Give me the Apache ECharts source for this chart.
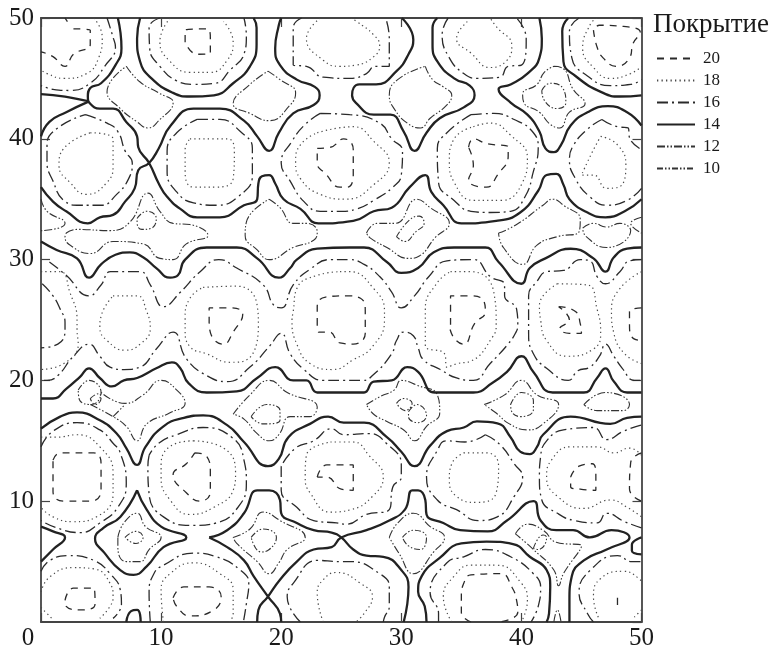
<!DOCTYPE html>
<html><head><meta charset="utf-8">
<script src="https://cdn.jsdelivr.net/npm/echarts@6/dist/echarts.min.js"></script>
<style>html,body{margin:0;padding:0;background:#fff}#c{width:776px;height:654px}</style></head>
<body><div id="c"></div>
<script>
const xTicks=[0,10,20,30,40,50];
const legendTitle="Покрытие";
const levels=["20","18","16","14","12","10"];

const contours14=[
[[0,43.7],[2,43.5],[3.5,43.2],[4,43.1]],
[[6.4,50],[6.7,47.5],[6.2,46.1],[5,44.6],[4.1,44.2],[3.9,43.5],[4.1,42.9],[4.9,42.5],[6,42.5],[7.1,41.4],[8,40.2],[8.1,39.3],[9,38],[9.8,36.3],[10.5,35.2],[11.6,34.2],[13,33.5],[14.9,33.5],[16.9,34.5],[18,35],[18.1,36.3],[18.4,36.9],[19,37],[19.5,36.3],[20.2,35],[21.6,34.2],[23.1,33],[26,33.2],[27.7,34],[29.2,34.3],[30.7,36],[32,37],[32.5,35.6],[33.5,34.5],[35,33],[37.9,33.2],[39.9,33.9],[41.4,35.7],[42.1,37],[42.9,37.1],[43.5,36.2],[44,35],[45.5,33.9],[47,33.5],[48.6,34],[50,35]],
[[0,40.2],[0.7,41.4],[2.1,42.2],[4,43.1]],
[[0,36],[1,34.8],[2.1,34],[3.9,33],[4.9,33.5],[6,33.7],[7,34.8],[7.8,35.9],[8.1,37.4],[9,38],[9.8,39.2],[10.8,41.1],[12.7,42.5],[14.9,42.5],[16.9,41.5],[18,40.2],[19,39],[19.8,40.5],[21,42.1],[22.7,42.8],[23.2,43.6],[22.8,44.3],[21.3,44.9],[19.9,46.1],[19.5,47.5],[19.8,49.4],[20,50]],
[[8.25,50],[8,48.3],[8.25,46.4],[9.2,45],[11,43.8],[12.4,43.5],[14.4,43.6],[16,44.6],[17.4,46],[17.95,47.8],[17.95,49.2],[17.7,50]],
[[30.05,50],[31,48.2],[30.6,47],[29.6,45.6],[27.9,44.5],[26.5,44.5],[25.9,43.6],[26.2,43],[27.7,42],[29.1,42],[30.2,40.6],[31.1,39],[32.1,40.5],[33.2,41.7],[35.2,42.6],[36.1,43.6],[35.7,44.4],[34.4,45],[33,46.4],[32.6,47.8],[32.6,49.2],[33,50]],
[[41.5,50],[41.7,48.3],[41.5,46.7],[40.5,45.4],[39.1,44.5],[38.1,44.1],[39.1,43],[40.5,42],[41.5,40.6],[42,39.2],[42.7,38.9],[43.3,39.5],[44.1,41.1],[45.5,42.2],[47.2,42.7],[48.8,42.2],[50,41.1]],
[[43.9,50],[43.4,48.9],[43.5,46.4],[44.5,45.2],[46.8,43.8],[48.2,43.5],[50,43.6]],
[[0,31.5],[1.3,30.8],[3,30.1],[4,28.5],[5,29.6],[6.2,30.4],[7.4,30.6],[8.5,30.2],[9.6,29.3],[10.75,28.5],[11.4,28.7],[12,30],[13.8,31],[16.3,31],[18,30.1],[19.8,28.5],[20.75,29.3],[21.3,30],[23,30.9],[25.7,31],[26.9,31],[28.8,29.8],[30,28.9],[31.4,29.3],[32.7,30.6],[34.4,31],[37,31],[38.1,29.8],[40,28],[40.7,29.3],[42,30.1],[44.1,30.9],[46,30.1],[47,29],[47.7,30.2],[48.8,30.9],[50,31]],
[[0,18.5],[1,18.5],[2.1,19.3],[3.25,20.3],[4,21],[4.9,20.2],[5.9,19.5],[6.9,20],[8,20.2],[9.6,21],[10.9,21.5],[11.6,21],[12.3,19.75],[13.8,19],[16.3,19.1],[18,20.2],[19.5,21.1],[21,20],[22.1,20],[23,19],[25.7,19],[26.9,19],[27.7,19.9],[29.2,20],[30.5,21.1],[31.4,20.7],[32.8,19],[36,19],[37.6,19.8],[38.8,20.7],[40,22],[41,20.7],[42.6,19],[45.2,19],[46.3,20.2],[47,21],[47.7,19.9],[48.8,19],[50,19]],
[[0,16],[1.6,17],[3,17.35],[4.9,16.7],[6.3,15.6],[7.1,14.4],[8,13],[8.7,14.5],[10.2,16.2],[11.9,16.9],[13.5,17.1],[15.5,16.3],[16.9,14.9],[18.9,12.9],[19.8,13.5],[20.6,15.3],[22.4,16.4],[23.9,17],[25.2,16.5],[26.9,16.5],[28.8,15.3],[30,14.1],[31.1,12.9],[32.4,14.6],[33.8,15.8],[35.2,16.1],[36.3,16.6],[38,16.45],[39.1,15.3],[39.9,14.1],[40.7,13.9],[41.3,14.5],[41.8,15.5],[44.1,17],[47.4,16.4],[48.8,16.9],[50,17]],
[[0,7.9],[1,7.5],[2,7],[1,6],[0,5]],
[[8,10.9],[8.8,9.3],[10,7.9],[12.1,7],[10.2,6.2],[8.8,4.6],[7.7,3.9],[6.6,4.3],[5.3,5.7],[4.5,6.9],[5.2,7.8],[6.6,8.7],[8,10.9]],
[[14,7],[15.5,7.6],[16.9,9],[18,10.9],[19,10.9],[19.9,10.1],[20,9],[21.3,8.2],[22.7,7.6],[24.2,7.4],[25,7],[26,6],[27.1,5.5],[28.5,5.4],[30,4.3],[30.6,2.9],[30.5,1.5],[30.2,0]],
[[14,7],[15.5,6.2],[16.9,5.1],[17.7,3.8],[18.9,2.1],[19.9,0.7],[20,0]],
[[18,0],[18.1,1],[18.9,2.1],[19.9,3.5],[21.3,5],[22.7,6],[24.2,6.2],[25,7],[27.1,7.6],[29,8.4],[30.3,9.3],[30.9,10.9],[31.4,10.9],[32,10.1],[32.1,8.9],[33.5,8.2],[34.9,7.6],[37.2,7.5],[38.8,8.4],[41,10],[41.6,8.4],[42.9,7.6],[44.3,7.6],[45.7,7],[47.5,7.6],[49,7],[47.1,6],[45.2,5.1],[44.2,3.8],[44,1.8],[44,0]],
[[7.1,0],[7.5,0.9],[8,1],[8.25,0.6],[8.3,0]],
[[32.1,0],[31.95,1.3],[31.4,2.5],[31.7,3.8],[33.2,5.3],[35,6.5],[37.1,6.65],[39.3,6.45],[40.7,5.4],[42.1,4.3],[42.4,2.9],[42.3,0.7],[42.1,0]],
[[50,7],[49.2,6.4],[49.2,5.9],[50,5.6]]
];

const contours16=[
[[5.5,50],[6,48.4],[6.2,47.6],[5.3,46],[4.1,44.6],[2.4,44],[1,44.1],[0,44.4]],
[[9.9,50],[9,49.2],[9.05,47.5],[9.9,46],[11.3,44.8],[12.7,44.5],[14.5,44.6],[15.75,45.7],[16.9,47],[17.1,48.5],[16.9,50]],
[[21.7,50],[21,49.2],[21,46.1],[22.1,46],[23.5,45.1],[25.7,45],[27.1,45.4],[27.8,46],[29,46],[29,48.3],[28.7,50]],
[[33.9,50],[33.4,48.6],[34,46.7],[35.2,45.4],[36.3,45],[38.2,45.1],[38.9,46],[40,46.1],[40.4,48.3],[39.6,50]],
[[44.8,50],[44,48.9],[44.2,46.7],[45.5,45.2],[47.4,44.4],[49.1,44.5],[50,44.9]],
[[3.7,42],[5.5,41.3],[6.4,40.6],[7,39],[7.6,38],[7.3,36.7],[6.3,35.4],[5,34.5],[3.25,34.5],[1.9,34.9],[1,36.5],[0.5,38.1],[0.5,39.5],[1.4,40.9],[3.7,42]],
[[13,41.6],[14.9,41.6],[16.6,40.6],[17.6,39.2],[17.6,37],[16.4,35.2],[14.6,34.5],[12.7,34.7],[11.3,35.6],[10.5,37.3],[10.5,39],[11.3,40.5],[13,41.6]],
[[23.25,42.1],[25.7,42],[28.2,41.3],[29.2,40],[30.1,39],[30,37],[29.3,36],[27.7,34.9],[26.3,34.2],[24.9,34],[23.25,34],[21.9,34.8],[20.75,36.5],[20,38],[20.9,39.8],[22,41.2],[23.25,42.1]],
[[35.8,42],[37.7,42.1],[39.4,41.6],[41,40.5],[41.4,39.2],[41,37.3],[40.3,35.2],[39.1,34],[37.4,33.9],[35.8,34],[34.4,34.9],[33.1,36.4],[33,39.2],[33.8,40.5],[35.8,42]],
[[46.7,41.6],[48,41],[48.9,40.9],[49,40.1],[50,39.1]],
[[50,35.9],[48.8,34.9],[47.1,34.5],[45.7,35.2],[44.5,36.7],[44,38.3],[44.3,39.4],[45.5,40.8],[46.7,41.6]],
[[0.7,29.8],[2.1,28.7],[4,27],[5,27.9],[5.8,29],[8.25,29],[9.1,27.9],[10.2,26.1],[11.6,27.3],[13.25,29],[14.8,30],[16.3,29.3],[18.5,27.9],[19.4,26.2],[20,26],[21,27.9],[22.4,29.2],[24.1,30],[25.7,30],[26.9,29.6],[28.2,28.6],[29.2,27.3],[30,26],[31.1,27],[32.3,28.6],[33.8,29.9],[36,30],[37.4,28.6],[38.6,27.9],[38.6,27],[39.6,25.9],[39.7,24.6],[39.5,23.9],[38.8,22.9],[37.4,21.4],[36,20],[34.6,20.2],[33.25,20.9],[31.85,21.7],[31.4,22.7],[31,23.7],[30.2,24],[29.6,23.3],[29.2,22.2],[27.6,20.4],[26.8,20],[25.7,20],[23.5,20],[21.9,20.9],[20.75,22.2],[20,23.9],[19,22.8],[17.4,21.1],[15.5,19.9],[13.8,20.4],[12.1,21.8],[11,24],[9.6,22.6],[8.25,21.1],[6.9,20.9],[5.75,21.1],[4.9,22],[4,23],[2.7,22],[1.4,20.4],[0.5,20],[0,20]],
[[50,30],[49,29.9],[48.2,29],[47,28],[46.3,28.6],[45.7,29.9],[44.9,30],[43.5,29.1],[42.1,29],[41.3,28.2],[40.6,27],[40.6,24.5],[40.6,23.9],[41,22.2],[42.1,21],[43.9,20],[44.7,20.8],[45.7,21.1],[46.5,22],[47,23],[47.7,22],[48.4,21],[49.4,20],[50,20]],
[[0.1,28],[1,27],[1.6,25.9],[2,24.8],[2,24.2],[1.4,23],[0,22.7]],
[[0,14.5],[1,15.8],[3,16.5],[4.9,15.9],[6,14.8],[6.6,14],[7.1,11.5],[6.4,9.5],[4.9,8.2],[3.25,7.4],[1.3,7.8],[0,8.4]],
[[9,13.8],[8.9,12.9],[9,10.6],[10.2,8.7],[12.7,8],[14.6,8.2],[16.4,9.5],[17.1,11.5],[16.9,13.4],[16,15.2],[13.5,16.1],[11.3,15.5],[9.8,14.8],[9,13.8]],
[[20,12.9],[20,10.9],[21.3,9.5],[22.7,8.4],[24.6,8.2],[25.4,8.1],[27.1,8.9],[29,9.3],[29.3,11.2],[30,12],[30,13],[28.75,14.8],[27.3,15.6],[25.2,15.5],[24.2,16],[22.7,15],[21.2,14.4],[20,12.9]],
[[37,15.5],[38.2,14.7],[39.4,13.1],[40.1,12],[39.4,10.4],[38,8.7],[36.4,8.4],[34.6,9.3],[33,10.1],[32.1,12],[33,14.2],[33.75,15],[35.3,14.9],[37,15.5]],
[[50,7.8],[48.6,8.3],[47.1,9],[46.3,8.2],[44.4,8.4],[43,9],[41.7,10.1],[41.5,12],[41.6,13.7],[42.1,15],[43.5,15.9],[46,16.1],[47.1,15.1],[48.5,15.8],[50,16.3]],
[[0,4.2],[0.75,5.1],[2.3,5.5],[4.4,5.1],[5.75,4],[6.6,2.65],[6.7,1.5],[6,0.3]],
[[9.1,0],[9,2.4],[9.4,4],[10.2,4.7],[12.7,5.7],[14.6,5.4],[16.6,4.3],[17.3,3.2],[17.1,1.5],[16.85,0]],
[[21.6,0],[20.5,2.1],[21,3.2],[23,5.1],[24.9,5],[25.75,5],[28.2,4],[29,2.9],[29,1.3],[28.6,0.4],[28.5,0]],
[[33.1,0],[33.1,0.7],[32.4,2.4],[33.8,4.9],[35.2,5.4],[37,6],[39.1,5.4],[41,4],[41.6,2.9],[41.4,1.3],[40.8,0]],
[[46,0],[45.5,0.7],[44.8,2.4],[45.75,4.3],[48,5.5],[49.2,5],[50,5]]
];

const contours18=[
[[4.4,50],[5.1,48.4],[4.8,46.7],[3.8,45.4],[1.9,45],[0.5,45.4],[0,45.7]],
[[10.75,50],[9.9,48.05],[10.75,46.4],[12.4,45.5],[14.1,45.5],[15.5,46.5],[16,48],[15.2,49.7]],
[[23.25,50],[22.1,48.3],[23.5,46.5],[24.9,46],[26.2,46.1],[27.7,46.8],[28.2,47.7],[27.7,48.6],[26.3,49.7],[25.8,50]],
[[35.5,49.7],[34.6,48.3],[35.8,47.1],[37.4,45.9],[38.8,46.5],[39.2,47.7],[37.9,49.3],[37.4,50]],
[[46.3,50],[45.75,49.5],[45.1,47.5],[46,45.9],[47.4,45],[49.1,45.4],[50,46]],
[[4.1,40.5],[6,40],[6,37.8],[5.5,36.4],[3.8,35.4],[2.4,36.4],[1.5,37.8],[1.9,39.2],[4.1,40.5]],
[[12.4,40],[15.5,40],[16.1,38.9],[16,36.7],[14.6,36],[12.7,36],[12,37.3],[12,39.1],[12.4,40]],
[[23,40.5],[26,41],[27.7,39.8],[29,38],[27.7,36.2],[25.4,35],[23.25,35.4],[21.6,36.7],[21.2,38.1],[21.6,39.5],[23,40.5]],
[[36,41],[37.4,41.3],[39.1,40.3],[40.5,38.4],[40.1,36.4],[38.3,34.9],[36,34.9],[34.4,36.4],[34,38.1],[34.4,40],[36,41]],
[[46.6,40.2],[48,39.5],[48.7,37.8],[48.1,36],[47.1,35.9],[46,37],[45,37],[45.9,38.9],[46.6,40.2]],
[[0,29],[1.6,29],[2.4,27.3],[3,25],[3,24.2],[3.1,23],[1.9,21.4],[0,20.9]],
[[6,27],[8,27],[8.8,25.7],[9.1,24.3],[8.25,23],[7,22.5],[5.5,23.3],[4.9,24.4],[5,25.3],[6,27]],
[[13.5,27.7],[16.3,27.8],[18,26.2],[18.1,24.5],[16.9,21.6],[15.75,21.5],[13.8,22.2],[12.4,22.8],[12,24.2],[12,25.1],[12.4,26.8],[13.5,27.7]],
[[24.9,29],[25.7,29],[27.7,27.6],[28.6,25.7],[28.6,25],[27.6,22.8],[26,21.7],[24.3,20.9],[22.4,21.4],[21.3,23],[20.9,25],[21,25.7],[21.3,27.6],[23,28.7],[24.9,29]],
[[34.1,29],[35.8,29],[37.7,27.3],[37.9,24.6],[37.6,23.6],[35.8,21.6],[34.7,21.4],[33.8,21.1],[33.6,22.2],[32,22.9],[32,25],[32,25.9],[33,28.1],[34.1,29]],
[[43,28],[45.5,27.9],[46.3,25.9],[46.6,23.9],[46,22.6],[43.8,22],[42.1,23.3],[41.6,25],[41.5,26.2],[43,28]],
[[50,29],[48.2,27.6],[47.5,25.7],[47.7,23.9],[48.6,22.2],[50,21.4]],
[[0,15.3],[1.3,15.3],[3,15.5],[4.9,14.5],[6,12.3],[6,10.6],[4.6,8.7],[2.7,8.3],[1,8.7],[0,9.5]],
[[12.7,15],[15.2,14.4],[16.2,12.3],[16,10.9],[14.4,9.5],[12.4,8.9],[10.75,10.1],[10,12],[10,13.1],[11.3,14.8],[12.7,15]],
[[24.1,14.9],[26,14.9],[27.3,13.8],[28.5,12],[27.6,10.4],[25.8,9.3],[24.1,9.1],[22.4,10.7],[22,12],[22.1,13.8],[24.1,14.9]],
[[35.2,14],[37.1,14],[38.1,12.9],[37.9,10.7],[36.3,9.9],[34.6,10.4],[34,11.8],[34.2,13.1],[35.2,14]],
[[50,13.8],[49,14.4],[47.7,14],[46.3,14.5],[44.1,14.5],[42.5,13.4],[42.1,12],[43,10.4],[45.2,9.4],[47.4,10.1],[48.8,9.5],[50,8.7]],
[[0,2.5],[0.75,3.75],[2.7,4.5],[4.4,4.4],[5.75,3.2],[6,2.1],[5.75,1.3],[4.9,0.3]],
[[0,1.2],[1,0.2]],
[[10.2,0],[10,2.65],[10.75,4],[12.7,4.9],[14.9,4],[16,2.65],[16,0.7],[15.7,0]],
[[23.5,0],[23,2.4],[23.5,3.5],[24.6,4.1],[26.6,3.2],[27.6,2.1],[26.9,0.7],[26.2,0]],
[[34.2,0],[33.5,2.1],[34.4,3.8],[35.8,4.7],[38,4.7],[40,3.2],[40.5,1.8],[40,0]],
[[46.4,0.4],[46,2.1],[46.6,3.6],[48.5,4.2],[49.8,3.6],[50,3.2]],
[[50,1],[49.4,0.4]]
];

const contours20=[
[[2,50],[2.2,49.7]],
[[2.7,49.1],[4.1,49],[4.1,47.8],[2.7,47],[2,46],[1,46.8],[0,47.2]],
[[12,48],[12,49],[13.8,49.1],[14.1,48.3],[14.1,47.1],[13,47],[12,48]],
[[23,39.2],[24.1,39.3],[25.2,40],[26,39.1],[26,37],[25.5,36],[24.9,36],[23.7,37.1],[23,38],[23,39.2]],
[[35.6,39.3],[36,40],[37.1,39.6],[38.9,39.3],[38.9,38.6],[38,37],[37.1,36],[35.6,36.6],[36,37.8],[35.6,39.3]],
[[46,49],[46.3,47.6],[46.8,46.7],[47.9,46],[49,46.7],[49.3,47.9],[49.9,48.8],[48.5,49.3],[46.5,49.4],[46,49]],
[[14,24.7],[14,26],[15.75,26],[16.8,25.5],[16,24],[15.2,23],[14.2,23.7],[14,24.7]],
[[23,24.6],[23,26.1],[23.7,26.9],[25.5,27],[26.6,26.8],[27,25.7],[27,24.6],[27,23.9],[26,23],[24.9,23.1],[24,24],[23.1,24],[23,24.6]],
[[34.1,24.6],[34.1,27],[35.8,27],[36.9,26.5],[37,25.7],[36.1,24.7],[35.2,23],[34.4,23.5],[34,24.5]],
[[43.1,26.1],[44.5,25.7],[44.9,24.7],[45,23.9],[44,23.9],[43.2,24.3],[44,25],[43.1,26.1]],
[[50,26],[49,25.7],[49,24.6],[49.2,23.6],[50,23.3]],
[[50,14],[49.1,13.2],[49,11],[50,10]],
[[1,13.4],[1.6,14],[4.4,14],[5,13.1],[5,10.9],[4.1,10],[1.9,10],[1,10.8],[1,13.4]],
[[12.8,14],[13.8,13.7],[14.1,12.3],[14.1,10.8],[13.25,10],[12.1,10.7],[11,12.2],[12.1,13.1],[12.8,14]],
[[23,12],[23.8,13],[26,13],[26,10.9],[25,11],[23.8,12],[23,12]],
[[44.1,12],[44.8,12.9],[45.9,13.1],[46.2,12],[46.2,10.9],[44.9,11],[44.1,11.2],[44.1,12]],
[[2,1.8],[2.7,2.8],[4.4,2.8],[4.5,1.5],[3.25,1],[2.1,1.3],[2,1.8]],
[[11,2],[11.9,2.9],[14,2.9],[15,2.1],[14.4,1],[12.4,0.5],[11.3,1.3],[11,2]],
[[35.8,0],[35,0.8],[35,2.1],[35.2,3.2],[35.8,3.9],[38.3,4],[39.2,2.9],[39.6,1.8],[39.7,0.8],[38.2,0]],
[[48,2],[48,1]]
];

const contours12=[
[[7.1,46],[8.25,44.7],[9.8,43.8],[11,43],[9.8,41.5],[8.9,40.9],[8,41.4],[6.6,42.5],[5.5,43.9],[7.1,46]],
[[18.9,45.6],[19.9,44.9],[21.2,43.8],[20.75,42.8],[19,41.5],[17.4,42.1],[16,42.9],[17.4,44.5],[18.9,45.6]],
[[32,46],[32.6,44.9],[33.5,44.3],[34.2,43.6],[33.8,42.8],[32.4,41.7],[31.6,40.9],[30.5,41.3],[29.4,42.5],[29,43.6],[29.7,44.9],[32,46]],
[[42.7,46],[43.5,45.8],[44.3,44.1],[45.3,42.9],[44,42.2],[43.2,40.9],[42.4,41.2],[41.5,42.2],[40.2,43],[40.1,43.7],[41.3,44.5],[41.9,45.5],[42.7,46]],
[[2.1,32.2],[3,32.5],[5.75,32.4],[7.4,33.1],[8.9,35.5],[9.9,34],[11,33],[12.4,32.9],[13.9,32],[12.1,31.3],[11,30],[9.9,30.1],[8.5,31.3],[6,31.5],[4.1,30.5],[2.7,31],[2,31.9],[2.1,32.2]],
[[0,35],[0.5,34],[2,33],[1,32.5],[0,32.4]],
[[19,35],[19.9,34.3],[21,33],[22.1,33],[23,32.3],[22.7,31.6],[21,31],[19,30],[18,30.8],[17,32],[17.1,33.1],[19,35]],
[[27.1,32.2],[28,33],[29.5,33],[31.3,35],[32.4,34.3],[34,33],[32.8,31.8],[31.5,30.3],[30.6,30.1],[28.8,31],[27.4,31.8],[27.1,32.2]],
[[38.1,32.2],[39.6,32.9],[41.8,34.5],[42.6,35],[43.5,34.5],[44.9,33.3],[44.8,32.3],[43,31.9],[41.3,31.2],[40.1,29.6],[38.5,31],[38.1,32.2]],
[[45.1,32.6],[46,33],[47.1,32.7],[48.2,33],[49.1,32.4],[47.1,31],[45.4,31.9],[45.1,32.6]],
[[50,33.5],[49.1,33],[50,32.2]],
[[4.1,18],[6,17],[7.1,16.2],[8,15],[8.8,16.4],[10.7,17.3],[12,18.1],[11.3,19.2],[10,20],[8.5,18.8],[7,18.1],[5,19]],
[[6,17],[7,18]],
[[16,17.2],[17.4,18.8],[19,20],[20.5,19],[23,17.8],[22.4,17],[20.75,17],[19.8,15.5],[19,15],[18,15.6],[16.9,16.8],[16,17.2]],
[[27.1,18],[28.3,18.7],[29.4,19.2],[30,20],[31.3,19.6],[33,18.8],[33.2,17.3],[32.1,16.2],[31.1,15],[30.2,15.9],[28.8,16.6],[27.7,17.2],[27.1,18]],
[[36.9,18],[38.6,18.8],[40,20],[41.3,18.8],[43.1,18],[41.8,16.4],[40.5,15.9],[39,16.4],[37.9,17.3],[36.9,18]],
[[45.2,18],[47,19],[49,18],[48.5,17.5],[46.3,17.5],[45.2,18]],
[[6.4,7],[6.9,8.2],[8,9],[8.7,7.9],[10,7],[9,6],[8.25,5],[7.1,5],[6.4,6.2],[6.4,7]],
[[16,7],[17.4,7.7],[18.5,9.1],[19.9,8.4],[22,7],[20.5,6],[19.8,4.9],[19,4],[18,5],[16.3,6.5],[16,7]],
[[29,7],[29.7,8.2],[31,9],[32.4,7.9],[33.6,7],[32.7,5.8],[31,4],[29.8,5.7],[29,7]],
[[39.5,7.3],[40.5,8.1],[41.8,7.6],[42.9,6.6],[45,6.3],[43.5,4],[43.1,3],[42.7,4.3],[41,6],[39.5,7.3]],
[[42.7,0],[43,1],[43.3,0]]
];

const contours10=[
[[41.7,44],[42.4,44.6],[43.5,44.1],[43.7,43],[43,42.5],[41.9,43.2],[41.7,44]],
[[8,33.4],[8.8,34],[9.6,33.4],[9.2,32.6],[8.4,32.5],[8,33.1],[8,33.4]],
[[29.6,31.9],[30.7,33.3],[31.5,33.6],[31.9,33],[31.2,32.3],[30.3,31.5],[29.6,31.9]],
[[3.1,19.2],[4,20],[5,19],[4.2,18],[3.2,18.4],[3.1,19.2]],
[[4.1,18.5],[4.8,18.9],[5,18.5],[4.5,18],[4.1,18.5]],
[[17.5,17],[18.8,18],[19.9,17.5],[19.9,16.7],[18.5,16.4],[17.5,17]],
[[29.6,18.1],[30.2,18.5],[30.9,18.1],[30.3,17.5],[29.6,18.1]],
[[30.6,17.4],[31.3,18],[32.1,17.1],[31.4,16.5],[30.6,17],[30.6,17.4]],
[[39.1,18],[40,19],[41,18.3],[41,17.6],[40,17],[39.2,17.4],[39.1,18]],
[[7,7],[7.9,7.5],[8.5,7],[7.9,6.5],[7,7]],
[[17.5,7],[18.5,7.7],[19.6,7],[19,6],[18.3,5.8],[17.5,7]],
[[30.1,7],[31,7.6],[32.1,7],[31.6,6],[30.6,6.3],[30.1,7]],
[[41,6.1],[41.8,7.2],[42.1,7],[41.4,6],[41,6.1]]
];

const levelPaths={"20":contours20,"18":contours18,"16":contours16,"14":contours14,"12":contours12,"10":contours10};
const levelStyle={
"20":{color:"#2a2a2a",width:1.3,type:[7,6]},
"18":{color:"#4a4a4a",width:1.2,type:[1.3,3.2]},
"16":{color:"#2a2a2a",width:1.3,type:[11,4,2,4]},
"14":{color:"#222222",width:2.3,type:"solid"},
"12":{color:"#333333",width:1.1,type:[8,2,1.5,2,1.5,2]},
"10":{color:"#333333",width:1.1,type:[6,2,1.5,2,1.5,2]}
};
function flatten(paths){const out=[];paths.forEach((p,i)=>{if(i)out.push(['-','-']);p.forEach(q=>out.push(q));});return out;}

const tickFont={fontFamily:"Liberation Serif",fontSize:25,color:"#1a1a1a"};
const axisBase={type:"value",min:0,max:50,interval:10,splitLine:{show:false},
  axisLine:{show:true,onZero:false,lineStyle:{color:"#444",width:1.8}},
  axisTick:{show:true,inside:true,length:9,lineStyle:{color:"#444",width:1.2}}};

const chart=echarts.init(document.getElementById("c"),null,{renderer:"canvas"});
chart.setOption({
 animation:false,backgroundColor:"#fff",
 title:{text:legendTitle,left:648,top:6,textStyle:{fontFamily:"Liberation Serif",fontSize:27,fontWeight:"normal",color:"#1a1a1a"}},
 legend:{orient:"vertical",left:651,top:45,data:levels,itemWidth:38,itemHeight:14,itemGap:5,
   itemStyle:{color:"rgba(0,0,0,0)",borderColor:"rgba(0,0,0,0)",borderWidth:0,opacity:0},
   textStyle:{fontFamily:"Liberation Serif",fontSize:17,color:"#1a1a1a",padding:[0,0,0,3]}},
 grid:{left:41,top:18,width:600.5,height:604,containLabel:false},
 xAxis:[
  {...axisBase,position:"bottom",axisLabel:{...tickFont,margin:4,
     formatter:v=>v===0?"{z|0}":(xTicks.includes(v)?String(v):""),
     rich:{z:{fontFamily:"Liberation Serif",fontSize:25,color:"#1a1a1a",padding:[0,26,0,0]}}}},
  {...axisBase,position:"top",axisLabel:{show:false}}
 ],
 yAxis:[
  {...axisBase,position:"left",axisLabel:{...tickFont,margin:7,showMinLabel:false}},
  {...axisBase,position:"right",axisLabel:{show:false}}
 ],
 series:levels.map(l=>({name:l,type:"line",xAxisIndex:0,yAxisIndex:0,data:flatten(levelPaths[l]),
   showSymbol:false,symbol:"none",smooth:0.5,connectNulls:false,lineStyle:levelStyle[l],itemStyle:{color:levelStyle[l].color},silent:true,z:l==="14"?3:2}))
});
</script></body></html>
